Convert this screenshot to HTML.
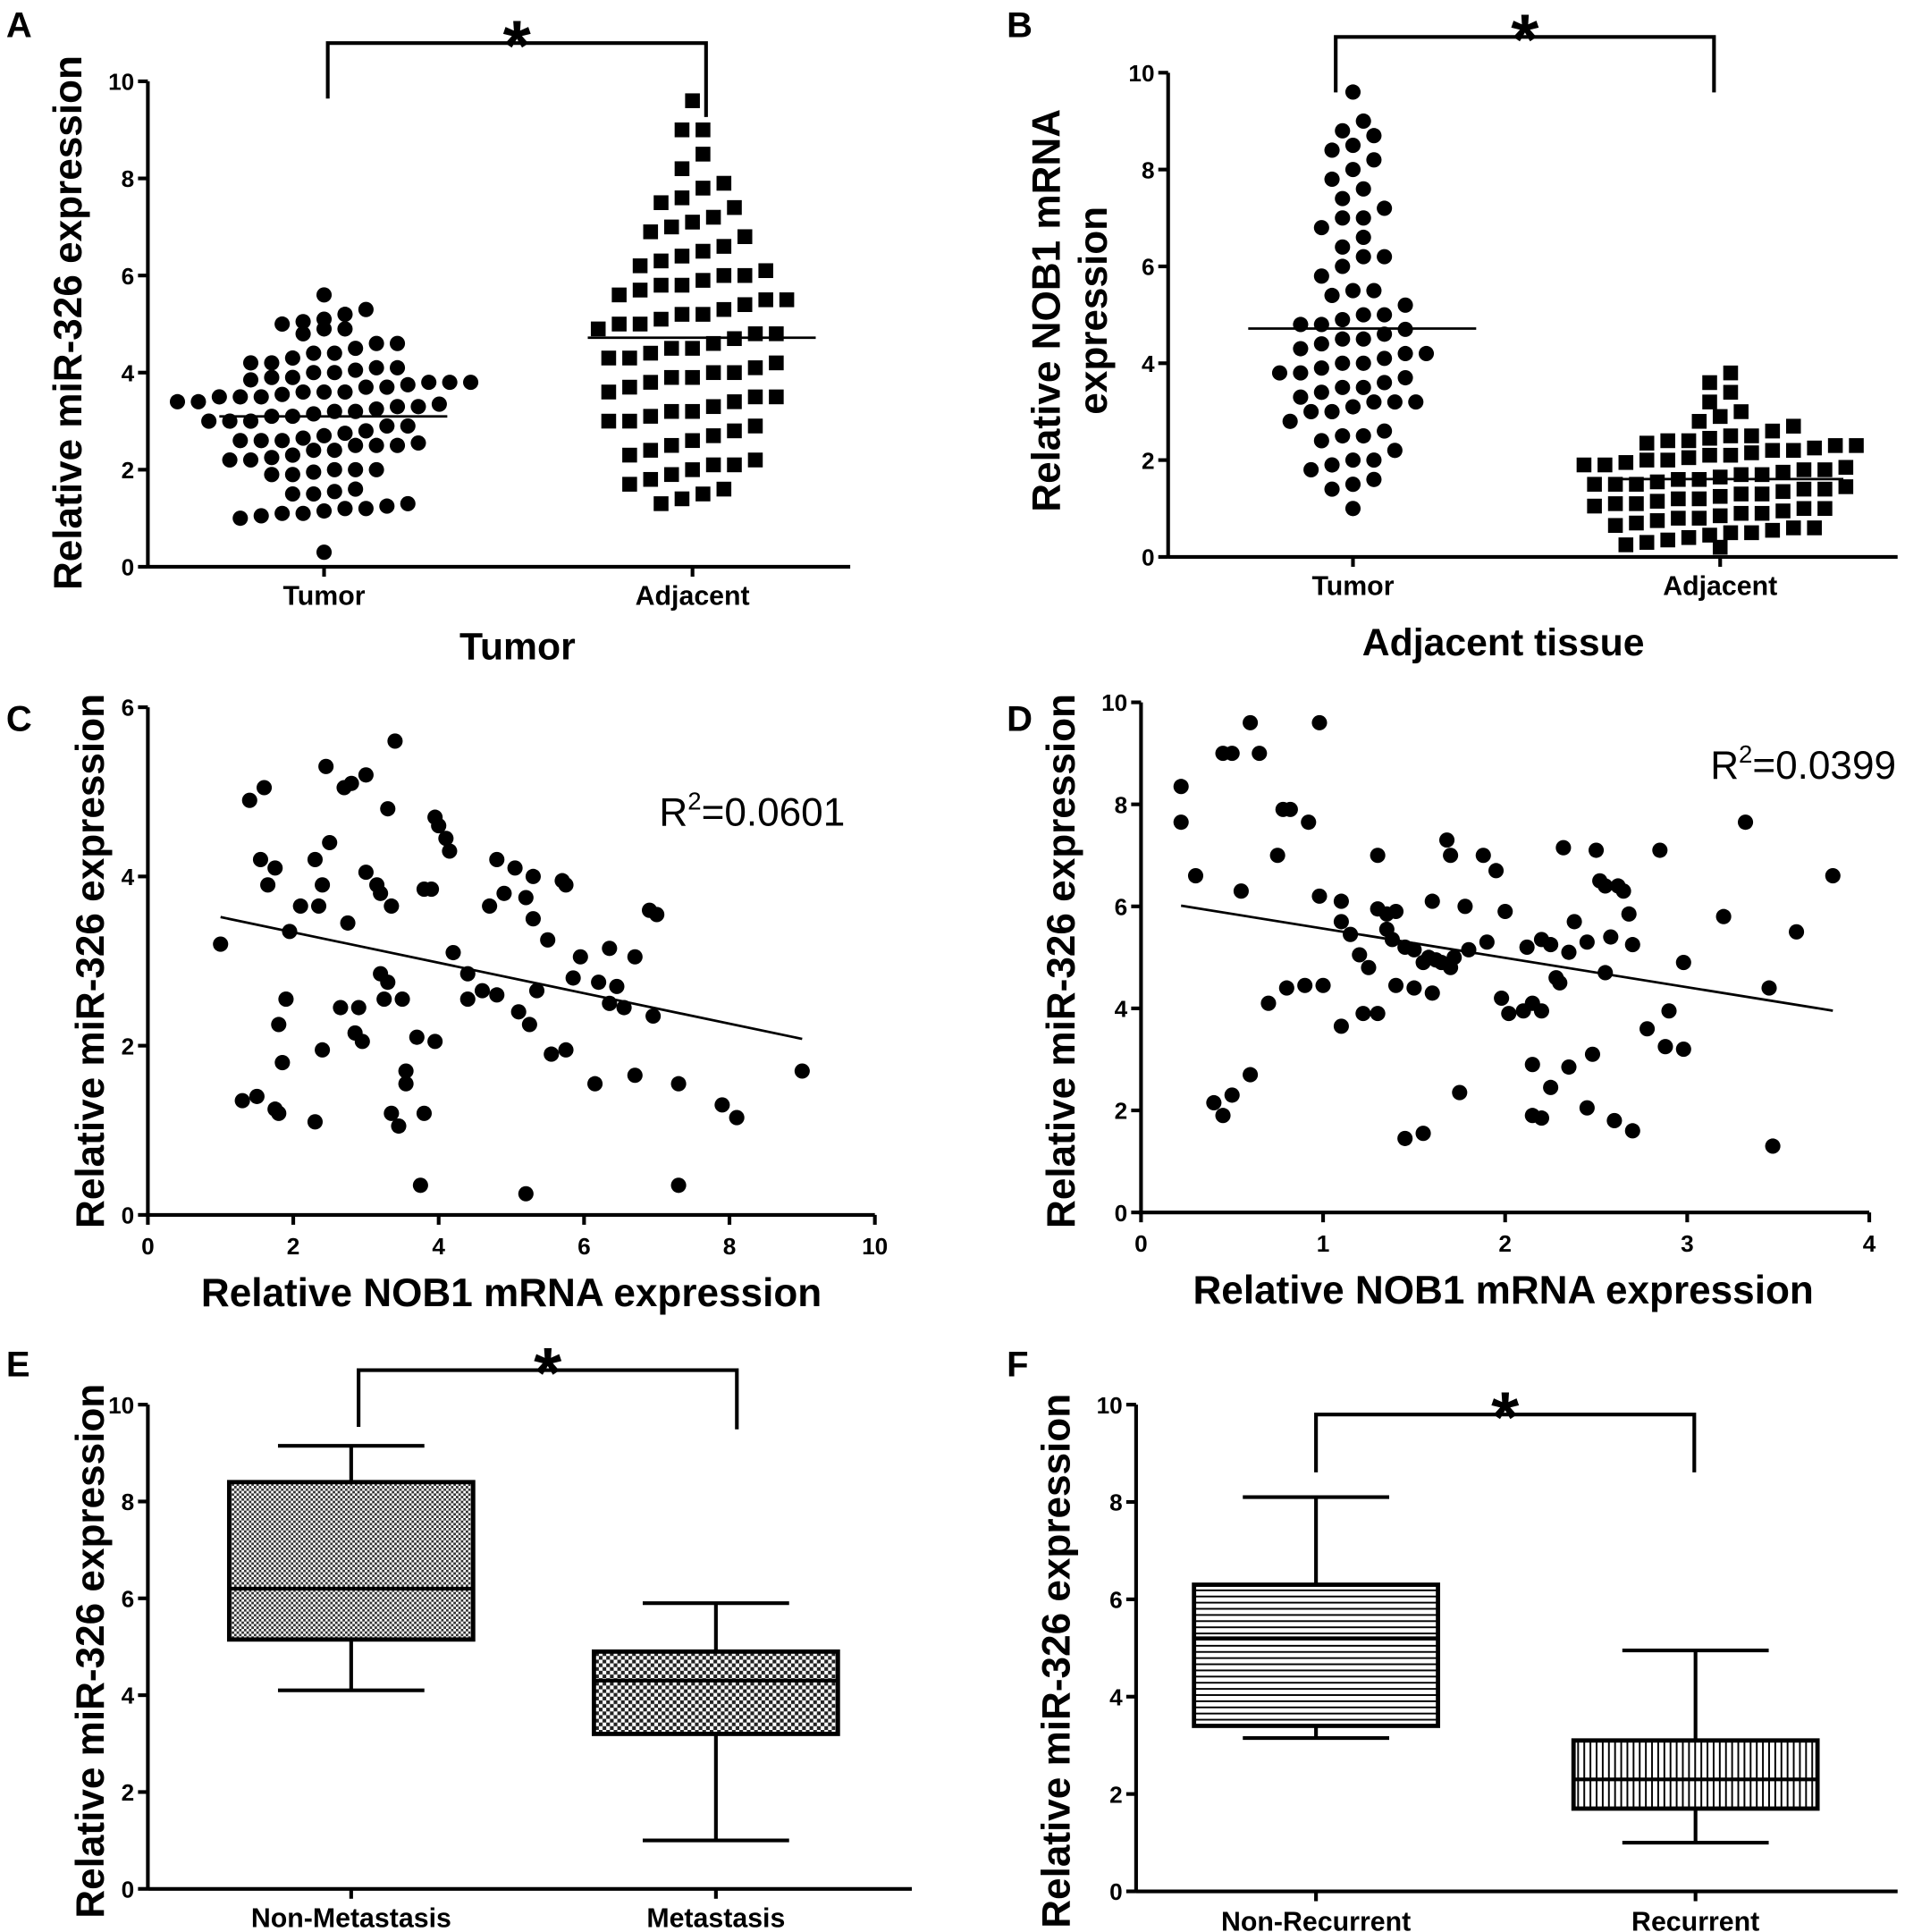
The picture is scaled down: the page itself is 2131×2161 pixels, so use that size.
<!DOCTYPE html>
<html><head><meta charset="utf-8"><style>
html,body{margin:0;padding:0;background:#fff;}
svg{display:block;font-family:"Liberation Sans",Arial,sans-serif;}
</style></head><body>
<svg id="fig" width="2131" height="2161" viewBox="0 0 1546 1568" preserveAspectRatio="none" xmlns="http://www.w3.org/2000/svg">
<defs>
<pattern id="pChk" width="4" height="4" patternUnits="userSpaceOnUse"><rect width="4" height="4" fill="#fff"/><rect width="2" height="2" fill="#333"/><rect x="2" y="2" width="2" height="2" fill="#333"/></pattern>
<pattern id="pChk2" width="6" height="6" patternUnits="userSpaceOnUse"><rect width="6" height="6" fill="#fff"/><rect width="3" height="3" fill="#222"/><rect x="3" y="3" width="3" height="3" fill="#222"/></pattern>
<pattern id="pH" width="6" height="5" patternUnits="userSpaceOnUse"><rect width="6" height="5" fill="#fff"/><rect y="0" width="6" height="1.4" fill="#000"/></pattern>
<pattern id="pV" width="5" height="6" patternUnits="userSpaceOnUse"><rect width="5" height="6" fill="#fff"/><rect x="0" width="1.4" height="6" fill="#000"/></pattern>
</defs>
</svg>
<script>
// ---------- DATA ----------
const swarmCategoriesA = ["Tumor","Adjacent"];
const aTumor = [0.3,1.0,1.05,1.1,1.1,1.15,1.2,1.2,1.25,1.3,1.5,1.5,1.55,1.6,1.9,1.9,1.95,2.0,2.0,2.0,2.2,2.2,2.25,2.3,2.4,2.4,2.5,2.5,2.5,2.55,2.6,2.6,2.6,2.65,2.7,2.75,2.8,2.9,2.9,3.0,3.0,3.0,3.1,3.1,3.15,3.2,3.2,3.25,3.3,3.3,3.35,3.4,3.4,3.5,3.5,3.5,3.55,3.6,3.6,3.6,3.7,3.7,3.75,3.8,3.8,3.8,3.85,3.9,3.9,4.0,4.0,4.05,4.1,4.1,4.2,4.2,4.3,4.4,4.4,4.5,4.6,4.6,4.8,4.9,4.9,5.0,5.05,5.1,5.2,5.3,5.6];
const aAdjacent = [1.3,1.4,1.5,1.6,1.7,1.8,1.9,2.0,2.1,2.1,2.2,2.3,2.4,2.5,2.6,2.7,2.8,2.9,3.0,3.0,3.1,3.2,3.2,3.3,3.4,3.5,3.5,3.6,3.7,3.8,3.9,3.9,4.0,4.0,4.1,4.2,4.3,4.3,4.4,4.5,4.5,4.6,4.7,4.8,4.8,4.9,5.0,5.0,5.1,5.2,5.2,5.3,5.4,5.5,5.5,5.6,5.7,5.8,5.8,5.9,6.0,6.0,6.1,6.2,6.3,6.4,6.5,6.6,6.8,6.9,7.0,7.1,7.2,7.4,7.5,7.6,7.8,7.9,8.2,8.5,9.0,9.0,9.6];
const bTumor = [1.0,1.4,1.5,1.6,1.8,1.9,2.0,2.0,2.2,2.4,2.5,2.5,2.6,2.8,3.0,3.0,3.1,3.2,3.2,3.2,3.3,3.4,3.5,3.5,3.6,3.7,3.8,3.8,3.9,4.0,4.0,4.1,4.2,4.2,4.3,4.4,4.5,4.5,4.6,4.7,4.8,4.8,4.9,5.0,5.0,5.2,5.4,5.5,5.5,5.8,6.0,6.2,6.2,6.4,6.6,6.8,7.0,7.0,7.2,7.4,7.6,7.8,8.0,8.2,8.4,8.5,8.7,8.8,9.0,9.6];
const bAdjacent = [0.2,0.25,0.3,0.35,0.4,0.45,0.5,0.5,0.55,0.6,0.6,0.65,0.7,0.75,0.8,0.8,0.85,0.9,0.9,0.95,1.0,1.0,1.05,1.1,1.1,1.15,1.2,1.2,1.25,1.3,1.3,1.35,1.4,1.4,1.45,1.5,1.5,1.5,1.55,1.6,1.6,1.65,1.7,1.7,1.75,1.8,1.8,1.85,1.9,1.9,1.95,2.0,2.0,2.05,2.1,2.1,2.15,2.2,2.2,2.25,2.3,2.3,2.35,2.4,2.4,2.45,2.5,2.5,2.6,2.7,2.8,2.9,3.0,3.2,3.4,3.6,3.8];
const cX = [1.0,1.3,1.4,1.5,1.55,1.6,1.65,1.75,1.75,1.8,1.8,1.85,1.9,1.95,2.1,2.3,2.35,2.3,2.4,2.4,2.45,2.5,2.65,2.7,2.75,2.8,2.85,2.9,2.95,3.0,3.0,3.15,3.2,3.2,3.25,3.3,3.3,3.35,3.35,3.4,3.45,3.5,3.55,3.55,3.7,3.75,3.8,3.8,3.9,3.95,3.95,4.0,4.1,4.15,4.2,4.4,4.4,4.6,4.7,4.8,4.8,4.9,5.05,5.1,5.2,5.25,5.3,5.3,5.35,5.5,5.55,5.7,5.75,5.75,5.85,5.2,5.95,6.15,6.2,6.35,6.35,6.45,6.55,6.7,6.7,6.9,6.95,7.0,7.3,7.3,7.9,8.1,9.0];
const cY = [3.2,1.35,4.9,1.4,4.2,5.05,3.9,4.1,1.25,2.25,1.2,1.8,2.55,3.35,3.65,4.2,3.65,1.1,1.95,3.9,5.3,4.4,2.45,5.05,3.45,5.1,2.15,2.45,2.05,5.2,4.05,3.9,3.8,2.85,2.55,2.75,4.8,3.65,1.2,5.6,1.05,2.55,1.7,1.55,2.1,0.35,3.85,1.2,3.85,2.05,4.7,4.6,4.45,4.3,3.1,2.85,2.55,2.65,3.65,4.2,2.6,3.8,4.1,2.4,3.75,2.25,3.5,4.0,2.65,3.25,1.9,3.95,3.9,1.95,2.8,0.25,3.05,1.55,2.75,2.5,3.15,2.7,2.45,1.65,3.05,3.6,2.35,3.55,1.55,0.35,1.3,1.15,1.7];
const dX = [0.22,0.22,0.3,0.4,0.45,0.45,0.5,0.5,0.55,0.6,0.6,0.65,0.7,0.75,0.78,0.8,0.82,0.9,0.92,0.98,0.98,1.0,1.1,1.1,1.1,1.15,1.2,1.22,1.25,1.3,1.3,1.3,1.35,1.35,1.38,1.4,1.4,1.45,1.45,1.5,1.55,1.5,1.55,1.58,1.6,1.6,1.62,1.65,1.68,1.7,1.7,1.72,1.75,1.78,1.8,1.88,1.9,1.95,1.98,2.0,2.02,2.1,2.12,2.15,2.15,2.15,2.2,2.2,2.2,2.25,2.25,2.28,2.3,2.32,2.35,2.35,2.38,2.45,2.45,2.48,2.5,2.52,2.55,2.55,2.58,2.6,2.62,2.65,2.68,2.7,2.7,2.78,2.85,2.88,2.9,2.98,2.98,3.2,3.32,3.45,3.47,3.6,3.8];
const dY = [8.35,7.65,6.6,2.15,9.0,1.9,9.0,2.3,6.3,9.6,2.7,9.0,4.1,7.0,7.9,4.4,7.9,4.45,7.65,9.6,6.2,4.45,6.1,5.7,3.65,5.45,5.05,3.9,4.8,5.95,3.9,7.0,5.85,5.55,5.35,5.9,4.45,5.2,1.45,5.15,1.55,4.4,4.9,5.0,6.1,4.3,4.95,4.9,7.3,7.0,4.8,5.0,2.35,6.0,5.15,7.0,5.3,6.7,4.2,5.9,3.9,3.95,5.2,4.1,2.9,1.9,1.85,5.35,3.95,5.25,2.45,4.6,4.5,7.15,5.1,2.85,5.7,5.3,2.05,3.1,7.1,6.5,4.7,6.4,5.4,1.8,6.4,6.3,5.85,5.25,1.6,3.6,7.1,3.25,3.95,3.2,4.9,5.8,7.65,4.4,1.3,5.5,6.6];
const cFit = [3.70,-0.18];   // intercept, slope
const dFit = [6.14,-0.575];
const cR2 = "0.0601", dR2 = "0.0399";
const eCategories = ["Non-Metastasis","Metastasis"];
const eMin=[4.1,1.0], eQ1=[5.15,3.2], eMed=[6.2,4.3], eQ3=[8.4,4.9], eMax=[9.15,5.9];
const fCategories = ["Non-Recurrent","Recurrent"];
const fMin=[3.15,1.0], fQ1=[3.4,1.7], fMed=[5.2,2.3], fQ3=[6.3,3.1], fMax=[8.1,4.95];
const yTicks10 = [0,2,4,6,8,10];
const yTicks6 = [0,2,4,6];
const xTicksC = [0,2,4,6,8,10];
const xTicksD = [0,1,2,3,4];

// ---------- HELPERS ----------
const svg = document.getElementById('fig');
const NS = 'http://www.w3.org/2000/svg';
function mk(tag, attrs, name, parent){
  const el = document.createElementNS(NS, tag);
  for (const k in attrs) el.setAttribute(k, attrs[k]);
  
  
  (parent||svg).appendChild(el);
  return el;
}
function txt(x,y,s,size,name,opts){
  opts=opts||{};
  const t = mk('text',{x:x,y:y,'font-size':size,'font-weight':opts.bold?'bold':'normal','text-anchor':opts.anchor||'middle',fill:'#000'},name);
  if(opts.rot) t.setAttribute('transform','rotate(-90 '+x+' '+y+')');
  t.textContent = s;
  return t;
}
function line(x1,y1,x2,y2,w,name){ return mk('line',{x1:x1,y1:y1,x2:x2,y2:y2,stroke:'#000','stroke-width':w},name); }
function lin(d0,d1,r0,r1){ return v=> r0+(v-d0)/(d1-d0)*(r1-r0); }

function yAxis(x, yS, ticks, top, bottom, prefix){
  line(x,top,x,bottom+1,3,prefix+'-y-axis');
  ticks.forEach(t=>{
    line(x-8,yS(t),x,yS(t),3,prefix+'-y-tick');
    txt(x-11,yS(t)+7,String(t),19,prefix+'-y-tick-label',{anchor:'end',bold:true});
  });
}
function bracket(x1,x2,top,y1,y2,prefix){
  mk('path',{d:`M${x1} ${y1} V${top} H${x2} V${y2}`,fill:'none',stroke:'#000','stroke-width':3},prefix+'-significance-bracket');
  txt((x1+x2)/2, top+22, '*', 58, prefix+'-significance-star',{bold:true});
}
function swarm(vals, cx, yS, shape, prefix, bw){
  const bins={};
  vals.forEach(v=>{const b=Math.round(v/bw); (bins[b]=bins[b]||[]).push(v);});
  Object.keys(bins).forEach(b=>{
    const arr=bins[b], n=arr.length;
    arr.forEach((v,i)=>{
      const x=cx+(i-(n-1)/2)*17, y=yS(v);
      if(shape==='circle') mk('circle',{cx:x,cy:y,r:6.2,fill:'#000'},prefix+'-point');
      else mk('rect',{x:x-6,y:y-6,width:12,height:12,fill:'#000'},prefix+'-point');
    });
  });
  const mean=vals.reduce((a,b)=>a+b,0)/vals.length;
  line(cx-85,yS(mean),cx+100,yS(mean),2,prefix+'-mean-line');
}
function box(cx,w,yS,mn,q1,md,q3,mx,fill,prefix){
  line(cx,yS(mx),cx,yS(q3),3,prefix+'-upper-whisker');
  line(cx-w*0.3,yS(mx),cx+w*0.3,yS(mx),3,prefix+'-max-cap');
  line(cx,yS(q1),cx,yS(mn),3,prefix+'-lower-whisker');
  line(cx-w*0.3,yS(mn),cx+w*0.3,yS(mn),3,prefix+'-min-cap');
  mk('rect',{x:cx-w/2,y:yS(q3),width:w,height:yS(q1)-yS(q3),fill:fill,stroke:'#000','stroke-width':3.5},prefix+'-box');
  line(cx-w/2,yS(md),cx+w/2,yS(md),3,prefix+'-median-line');
}

// ---------- PANEL LETTERS ----------
[['A',5,30],['B',817,30],['C',5,593],['D',817,593],['E',5,1117],['F',817,1117]].forEach(p=>txt(p[1],p[2],p[0],29,'panel-label-'+p[0].toLowerCase(),{anchor:'start',bold:true}));

// ---------- PANEL A ----------
{
  const yS=lin(0,10,460,66);
  yAxis(120,yS,yTicks10,66,460,'panel-a');
  line(120,460,690,460,3,'panel-a-x-axis');
  const cxs=[263,562];
  cxs.forEach((c,i)=>{ line(c,460,c,468,3,'panel-a-x-tick'); txt(c,491,swarmCategoriesA[i],22,'panel-a-x-label',{bold:true}); });
  swarm(aTumor,cxs[0],yS,'circle','panel-a-tumor',0.4);
  swarm(aAdjacent,cxs[1],yS,'square','panel-a-adjacent',0.65);
  txt(66,262,'Relative miR-326  expression',32,'panel-a-y-title',{bold:true,rot:true});
  bracket(266,573,35,80,95,'panel-a');
  txt(420,535,'Tumor',31,'panel-a-caption',{bold:true});
}
// ---------- PANEL B ----------
{
  const yS=lin(0,10,452,59);
  yAxis(948,yS,yTicks10,59,452,'panel-b');
  line(948,452,1540,452,3,'panel-b-x-axis');
  const cxs=[1098,1396];
  cxs.forEach((c,i)=>{ line(c,452,c,460,3,'panel-b-x-tick'); txt(c,483,swarmCategoriesA[i],22,'panel-b-x-label',{bold:true}); });
  swarm(bTumor,cxs[0],yS,'circle','panel-b-tumor',0.5);
  swarm(bAdjacent,cxs[1],yS,'square','panel-b-adjacent',0.42);
  txt(860,252,'Relative NOB1 mRNA',32,'panel-b-y-title-line1',{bold:true,rot:true});
  txt(898,252,'expression',32,'panel-b-y-title-line2',{bold:true,rot:true});
  bracket(1084,1391,30,75,75,'panel-b');
  txt(1220,532,'Adjacent tissue',31,'panel-b-caption',{bold:true});
}
// ---------- PANEL C ----------
{
  const xS=lin(0,10,120,710), yS=lin(0,6,986,574);
  yAxis(120,yS,yTicks6,574,986,'panel-c');
  line(118,986,710,986,3,'panel-c-x-axis');
  xTicksC.forEach(t=>{ line(xS(t),986,xS(t),994,3,'panel-c-x-tick'); txt(xS(t),1018,String(t),19,'panel-c-x-tick-label',{bold:true}); });
  cX.forEach((x,i)=>mk('circle',{cx:xS(x),cy:yS(cY[i]),r:6.2,fill:'#000'},'panel-c-point'));
  line(xS(1.0),yS(cFit[0]+cFit[1]*1.0),xS(9.0),yS(cFit[0]+cFit[1]*9.0),2,'panel-c-regression-line');
  const r=txt(535,670,'R',32,'panel-c-r-squared',{anchor:'start'});
  r.innerHTML='R<tspan font-size="20" dy="-13">2</tspan><tspan dy="13">='+cR2+'</tspan>';
  txt(84,780,'Relative miR-326 expression',32,'panel-c-y-title',{bold:true,rot:true});
  txt(415,1060,'Relative NOB1 mRNA expression',32,'panel-c-x-title',{bold:true});
}
// ---------- PANEL D ----------
{
  const xS=lin(0,4,926,1517), yS=lin(0,10,984,570);
  yAxis(926,yS,yTicks10,570,984,'panel-d');
  line(924,984,1517,984,3,'panel-d-x-axis');
  xTicksD.forEach(t=>{ line(xS(t),984,xS(t),992,3,'panel-d-x-tick'); txt(xS(t),1016,String(t),19,'panel-d-x-tick-label',{bold:true}); });
  dX.forEach((x,i)=>mk('circle',{cx:xS(x),cy:yS(dY[i]),r:6.2,fill:'#000'},'panel-d-point'));
  line(xS(0.22),yS(dFit[0]+dFit[1]*0.22),xS(3.8),yS(dFit[0]+dFit[1]*3.8),2,'panel-d-regression-line');
  const r=txt(1388,632,'R',32,'panel-d-r-squared',{anchor:'start'});
  r.innerHTML='R<tspan font-size="20" dy="-13">2</tspan><tspan dy="13">='+dR2+'</tspan>';
  txt(872,780,'Relative miR-326 expression',32,'panel-d-y-title',{bold:true,rot:true});
  txt(1220,1058,'Relative NOB1 mRNA expression',32,'panel-d-x-title',{bold:true});
}
// ---------- PANEL E ----------
{
  const yS=lin(0,10,1533,1140);
  yAxis(120,yS,yTicks10,1140,1533,'panel-e');
  line(120,1533,740,1533,3,'panel-e-x-axis');
  const cxs=[285,581], fills=['url(#pChk)','url(#pChk2)'];
  cxs.forEach((c,i)=>{
    line(c,1533,c,1541,3,'panel-e-x-tick');
    txt(c,1564,eCategories[i],22,'panel-e-x-label',{bold:true});
    box(c,198,yS,eMin[i],eQ1[i],eMed[i],eQ3[i],eMax[i],fills[i],'panel-e-'+eCategories[i].toLowerCase());
  });
  txt(84,1340,'Relative miR-326 expression',32,'panel-e-y-title',{bold:true,rot:true});
  bracket(291,598,1112,1158,1160,'panel-e');
}
// ---------- PANEL F ----------
{
  const yS=lin(0,10,1535,1140);
  yAxis(922,yS,yTicks10,1140,1535,'panel-f');
  line(922,1535,1540,1535,3,'panel-f-x-axis');
  const cxs=[1068,1376], fills=['url(#pH)','url(#pV)'];
  cxs.forEach((c,i)=>{
    line(c,1535,c,1543,3,'panel-f-x-tick');
    txt(c,1567,fCategories[i],22,'panel-f-x-label',{bold:true});
    box(c,198,yS,fMin[i],fQ1[i],fMed[i],fQ3[i],fMax[i],fills[i],'panel-f-'+fCategories[i].toLowerCase());
  });
  txt(868,1348,'Relative miR-326 expression',32,'panel-f-y-title',{bold:true,rot:true});
  bracket(1068,1375,1148,1195,1195,'panel-f');
}
</script>
</body></html>
